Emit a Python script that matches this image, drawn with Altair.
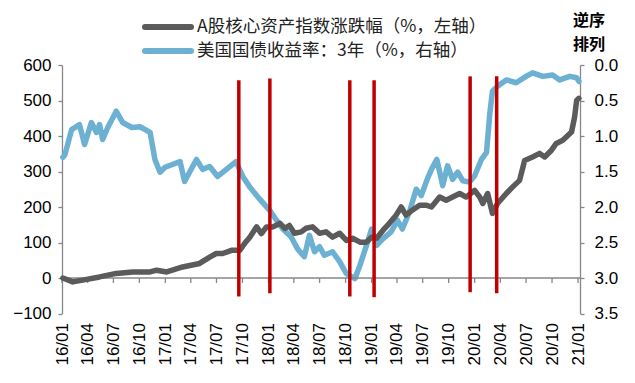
import altair as alt
import pandas as pd

# ---------------- data ----------------
blue_dates = ["2016-01-04", "2016-01-11", "2016-02-04", "2016-03-03", "2016-03-21", "2016-04-14",
              "2016-05-02", "2016-05-13", "2016-05-24", "2016-06-11", "2016-07-11", "2016-08-03",
              "2016-09-04", "2016-10-03", "2016-11-08", "2016-11-25", "2016-12-13", "2016-12-31",
              "2017-02-22", "2017-03-10", "2017-04-21", "2017-05-13", "2017-06-07", "2017-07-05",
              "2017-08-05", "2017-09-08", "2017-10-02", "2017-10-27", "2017-12-01", "2018-01-06",
              "2018-01-30", "2018-02-21", "2018-03-22", "2018-04-14", "2018-05-08", "2018-05-26",
              "2018-06-13", "2018-07-01", "2018-07-18", "2018-08-16", "2018-09-10", "2018-10-04",
              "2018-11-03", "2018-11-21", "2018-12-14", "2019-01-01", "2019-01-19", "2019-02-10",
              "2019-03-11", "2019-04-03", "2019-04-20", "2019-05-15", "2019-06-08", "2019-06-26",
              "2019-07-18", "2019-08-01", "2019-08-20", "2019-09-10", "2019-09-27", "2019-10-15",
              "2019-11-02", "2019-11-20", "2019-12-14", "2020-01-01", "2020-01-25", "2020-02-12",
              "2020-02-24", "2020-03-04", "2020-03-22", "2020-04-22", "2020-05-27", "2020-07-01",
              "2020-07-24", "2020-08-29", "2020-10-03", "2020-10-28", "2020-12-03", "2020-12-27",
              "2021-01-04"]
blue_vals = [1.30, 1.27, 0.91, 0.84, 1.12, 0.81,
             0.95, 0.84, 1.05, 0.88, 0.65, 0.81,
             0.88, 0.87, 0.95, 1.33, 1.51, 1.44,
             1.36, 1.64, 1.33, 1.47, 1.43, 1.57,
             1.47, 1.36, 1.57, 1.72, 1.89, 2.05,
             2.19, 2.31, 2.42, 2.59, 2.70, 2.40,
             2.63, 2.56, 2.68, 2.63, 2.77, 2.94,
             3.01, 2.82, 2.54, 2.31, 2.54, 2.45,
             2.35, 2.19, 2.31, 2.07, 1.75, 1.84,
             1.60, 1.47, 1.33, 1.70, 1.42, 1.61,
             1.51, 1.63, 1.65, 1.56, 1.33, 1.23,
             0.67, 0.37, 0.30, 0.21, 0.25, 0.16,
             0.11, 0.16, 0.14, 0.21, 0.16, 0.18,
             0.23]

gray_dates = ["2016-01-04", "2016-02-08", "2016-03-14", "2016-05-13", "2016-07-11", "2016-09-08",
              "2016-11-08", "2016-12-01", "2017-01-06", "2017-03-03", "2017-05-02", "2017-06-07",
              "2017-06-30", "2017-07-23", "2017-08-23", "2017-09-22", "2017-10-09", "2017-10-27",
              "2017-11-20", "2017-12-07", "2017-12-25", "2018-01-17", "2018-02-11", "2018-02-28",
              "2018-03-16", "2018-04-03", "2018-04-27", "2018-05-14", "2018-06-06", "2018-07-01",
              "2018-07-24", "2018-08-16", "2018-09-10", "2018-10-04", "2018-10-26", "2018-11-21",
              "2018-12-14", "2019-01-01", "2019-01-19", "2019-02-10", "2019-03-05", "2019-03-29",
              "2019-04-16", "2019-05-03", "2019-05-25", "2019-06-20", "2019-07-13", "2019-08-01",
              "2019-08-30", "2019-09-22", "2019-10-15", "2019-11-09", "2019-12-02", "2020-01-01",
              "2020-01-19", "2020-01-30", "2020-02-16", "2020-03-04", "2020-03-22", "2020-04-22",
              "2020-05-14", "2020-06-08", "2020-06-26", "2020-07-24", "2020-08-18", "2020-09-05",
              "2020-09-29", "2020-10-16", "2020-11-08", "2020-12-09", "2020-12-20", "2020-12-27",
              "2021-01-04"]
gray_vals = [0, -11, -6, 3, 13, 17,
             17, 22, 17, 31, 41, 59,
             69, 69, 78, 78, 98, 115,
             144, 125, 144, 144, 154, 140,
             148, 126, 130, 140, 144, 126,
             130, 115, 126, 106, 112, 101,
             101, 115, 112, 134, 154, 177,
             200, 177, 191, 205, 205, 200,
             228, 219, 228, 238, 228, 247,
             228, 210, 238, 182, 210, 238,
             256, 275, 331, 341, 351, 341,
             360, 379, 388, 411, 454, 500,
             506]

event_dates = ["2017-09-18", "2018-01-06", "2018-10-16", "2019-01-10", "2019-12-16", "2020-03-19"]
event_top = [557, 562, 557, 557, 568, 568]
event_bottom = [-52, -43, -52, -54, -40, -43]

tick_dates = ["2016-01-01", "2016-04-01", "2016-07-01", "2016-10-01",
              "2017-01-01", "2017-04-01", "2017-07-01", "2017-10-01",
              "2018-01-01", "2018-04-01", "2018-07-01", "2018-10-01",
              "2019-01-01", "2019-04-01", "2019-07-01", "2019-10-01",
              "2020-01-01", "2020-04-01", "2020-07-01", "2020-10-01",
              "2021-01-01"]
left_ticks = [-100, 0, 100, 200, 300, 400, 500, 600]
right_ticks = [0.0, 0.5, 1.0, 1.5, 2.0, 2.5, 3.0, 3.5]

series_gray = "A股核心资产指数涨跌幅（%，左轴）"
series_blue = "美国国债收益率：3年（%，右轴）"
right_title = ["逆序", "排列"]

GRAY = "#5b5b5b"
BLUE = "#6cb0d2"
RED = "#c00000"
AXIS = "#878787"
NUMFONT = "Liberation Sans"
CJK = "Noto Sans CJK SC"

# ---------------- scales / axes ----------------
def dt(s):
    return alt.DateTime(year=int(s[:4]), month=int(s[5:7]), date=int(s[8:10]), utc=True)

x_scale = alt.Scale(type="utc", domain=[dt("2016-01-01"), dt("2021-01-08")])
x_axis = alt.Axis(values=[dt(s) for s in tick_dates],
                  labelExpr="utcFormat(datum.value, '%y/%m')",
                  labelAngle=270, labelFontSize=17, labelFont=NUMFONT, labelColor="black",
                  domain=False, ticks=False, grid=False, labelPadding=9, title=None,
                  labelFlush=False, labelOverlap=False)

def xenc(field="date"):
    return alt.X(f"{field}:T", scale=x_scale, axis=x_axis, title=None)

left_scale = alt.Scale(domain=[-100, 600], nice=False, zero=False)
left_axis = alt.Axis(orient="left", values=left_ticks, grid=False, title=None,
                     domainColor=AXIS, tickColor=AXIS, tickSize=4, domainWidth=1.3, tickWidth=1.3,
                     labelFont=NUMFONT, labelFontSize=17, labelColor="black", labelPadding=7)

right_scale = alt.Scale(domain=[0, 3.5], reverse=True, nice=False, zero=False)
right_axis = alt.Axis(orient="right", values=right_ticks, format=".1f", grid=False, title=None,
                      domainColor=AXIS, tickColor=AXIS, tickSize=4, domainWidth=1.3, tickWidth=1.3,
                      labelFont=NUMFONT, labelFontSize=17, labelColor="black", labelPadding=10)

blue_df = pd.DataFrame({"date": blue_dates, "v": blue_vals})
gray_df = pd.DataFrame({"date": gray_dates, "v": gray_vals})
event_df = pd.DataFrame({"date": event_dates, "v": event_top, "v2": event_bottom})
zero_df = pd.DataFrame({"date": ["2016-01-01"], "date2": ["2021-01-08"], "v": [0]})
tick_df = pd.DataFrame({"date": tick_dates, "v": [0] * len(tick_dates), "v2": [-14] * len(tick_dates)})

blue = alt.Chart(blue_df).mark_line(color=BLUE, strokeWidth=5.5, strokeJoin="round", strokeCap="round").encode(
    x=xenc(), y=alt.Y("v:Q", scale=right_scale, axis=right_axis, title=None))

zero = alt.Chart(zero_df).mark_rule(color=AXIS, strokeWidth=1.5).encode(
    x=xenc(), x2="date2:T", y=alt.Y("v:Q", scale=left_scale, axis=left_axis, title=None))
ticks = alt.Chart(tick_df).mark_rule(color=AXIS, strokeWidth=1.3).encode(
    x=xenc(), y=alt.Y("v:Q", scale=left_scale, axis=left_axis, title=None), y2="v2:Q")
gray = alt.Chart(gray_df).mark_line(color=GRAY, strokeWidth=5.5, strokeJoin="round", strokeCap="round").encode(
    x=xenc(), y=alt.Y("v:Q", scale=left_scale, axis=left_axis, title=None))
red = alt.Chart(event_df).mark_rule(color=RED, strokeWidth=3.5).encode(
    x=xenc(), y=alt.Y("v:Q", scale=left_scale, axis=left_axis, title=None), y2="v2:Q")

left_group = alt.layer(zero, ticks, gray, red)

# ---------------- legend (manual) ----------------
one = pd.DataFrame({"k": [0]})
leg_gray_line = alt.Chart(one).mark_rule(color=GRAY, strokeWidth=6, strokeCap="round").encode(
    x=alt.value(83), x2=alt.value(129), y=alt.value(-38))
leg_blue_line = alt.Chart(one).mark_rule(color=BLUE, strokeWidth=6, strokeCap="round").encode(
    x=alt.value(83), x2=alt.value(129), y=alt.value(-14))
leg_gray_text = alt.Chart(one).mark_text(align="left", baseline="middle", font=CJK, fontSize=17.5,
                                         color="#222222").encode(
    x=alt.value(135), y=alt.value(-38), text=alt.value(series_gray))
leg_blue_text = alt.Chart(one).mark_text(align="left", baseline="middle", font=CJK, fontSize=17.5,
                                         color="#222222").encode(
    x=alt.value(135), y=alt.value(-14), text=alt.value(series_blue))
rt1 = alt.Chart(one).mark_text(align="center", baseline="middle", font=CJK, fontSize=16,
                               fontWeight="bold", color="black").encode(
    x=alt.value(527), y=alt.value(-44), text=alt.value(right_title[0]))
rt2 = alt.Chart(one).mark_text(align="center", baseline="middle", font=CJK, fontSize=16,
                               fontWeight="bold", color="black").encode(
    x=alt.value(527), y=alt.value(-20), text=alt.value(right_title[1]))

chart = alt.layer(blue, left_group, leg_gray_line, leg_blue_line, leg_gray_text, leg_blue_text, rt1, rt2
).resolve_scale(y="independent").properties(
    width=518, height=248.5,
    autosize=alt.AutoSizeParams(type="none"),
    padding={"left": 54, "top": 57, "right": 45, "bottom": 60},
    background="white",
).configure_view(stroke=None)

chart.save("out.html", embed_options={"renderer": "svg", "actions": False})
